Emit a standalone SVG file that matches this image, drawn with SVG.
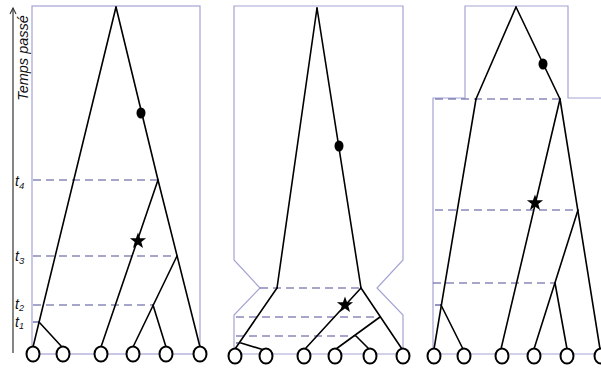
<svg xmlns="http://www.w3.org/2000/svg" width="601" height="370" viewBox="0 0 601 370">
<style>
.frame{fill:none;stroke:#a4a4d4;stroke-width:1.2}
.br{fill:none;stroke:#000;stroke-width:1.6;stroke-linecap:round}
.dash{fill:none;stroke:#4e4e96;stroke-width:1.2;stroke-dasharray:8 5}
.leaf{fill:#fff;stroke:#000;stroke-width:2}
.lbl{font-family:"Liberation Sans",Arial,sans-serif;font-style:italic;fill:#111}
</style>
<defs>
<path id="star" d="M0,-8.5 L2.05,-2.8 L8.1,-2.65 L3.3,1.05 L5,6.9 L0,3.5 L-5,6.9 L-3.3,1.05 L-8.1,-2.65 L-2.05,-2.8 Z" fill="#000"/>
</defs>

<!-- axis -->
<g id="axis">
<line x1="13" y1="353" x2="13" y2="8" stroke="#333" stroke-width="1.2"/>
<path d="M10,14 L13,8 L16,14" fill="none" stroke="#333" stroke-width="1.1"/>
<text class="lbl" font-size="14.5" text-anchor="middle" transform="translate(27.5,58) rotate(-90)">Temps passé</text>
<text class="lbl" font-size="14" x="15" y="186">t<tspan font-size="9.5" dy="3">4</tspan></text>
<text class="lbl" font-size="14" x="15" y="261">t<tspan font-size="9.5" dy="3">3</tspan></text>
<text class="lbl" font-size="14" x="15" y="309">t<tspan font-size="9" dy="2">2</tspan></text>
<text class="lbl" font-size="14" x="15" y="327">t<tspan font-size="9" dy="2">1</tspan></text>
</g>

<!-- frames -->
<g id="frames">
<rect class="frame" x="32" y="6" width="168" height="348"/>
<path class="frame" d="M234,354 V315 L260,288 L234,260 V6 H403 V260 L377,288 L403,315 V354 Z"/>
<path class="frame" d="M433,354 V98 H465 V6 H568 V98 H601 M433,354 H601"/>
</g>

<!-- connectors -->
<g id="connectors">
<!-- panel 1 -->
<line class="dash" x1="33" y1="180" x2="158" y2="180"/>
<line class="dash" x1="33" y1="256" x2="177" y2="256"/>
<line class="dash" x1="33" y1="305" x2="153" y2="305"/>
<line class="dash" x1="33" y1="322" x2="39" y2="322"/>
<line class="br" x1="116" y1="7" x2="33" y2="347"/>
<line class="br" x1="39" y1="322" x2="62" y2="347"/>
<line class="br" x1="116" y1="7" x2="158" y2="180"/>
<line class="br" x1="158" y1="180" x2="101" y2="347"/>
<line class="br" x1="158" y1="180" x2="200" y2="347"/>
<line class="br" x1="177" y1="256" x2="133" y2="347"/>
<line class="br" x1="153" y1="305" x2="166" y2="347"/>
<!-- panel 2 -->
<line class="dash" x1="260" y1="288" x2="361" y2="288"/>
<line class="dash" x1="236" y1="317" x2="380" y2="317"/>
<line class="dash" x1="236" y1="336" x2="356" y2="336"/>
<line class="dash" x1="236" y1="343" x2="241" y2="343"/>
<line class="br" x1="317" y1="8" x2="277" y2="288"/>
<line class="br" x1="317" y1="8" x2="361" y2="288"/>
<line class="br" x1="277" y1="288" x2="235" y2="349"/>
<line class="br" x1="241" y1="343" x2="264" y2="350"/>
<line class="br" x1="361" y1="288" x2="305" y2="349"/>
<line class="br" x1="361" y1="288" x2="402" y2="349"/>
<line class="br" x1="380" y1="317" x2="336" y2="349"/>
<line class="br" x1="356" y1="336" x2="369" y2="349"/>
<!-- panel 3 -->
<line class="dash" x1="435" y1="99" x2="560" y2="99"/>
<line class="dash" x1="435" y1="210" x2="578" y2="210"/>
<line class="dash" x1="433" y1="283" x2="555" y2="283"/>
<line class="dash" x1="435" y1="305" x2="441" y2="305"/>
<line class="br" x1="516" y1="7" x2="476" y2="99"/>
<line class="br" x1="516" y1="7" x2="560" y2="99"/>
<line class="br" x1="476" y1="99" x2="434" y2="349"/>
<line class="br" x1="441" y1="305" x2="463" y2="349"/>
<line class="br" x1="560" y1="99" x2="501" y2="349"/>
<line class="br" x1="560" y1="99" x2="600" y2="349"/>
<line class="br" x1="578" y1="210" x2="534" y2="349"/>
<line class="br" x1="555" y1="283" x2="567" y2="349"/>
</g>

<!-- markers on branches -->
<g id="events">
<ellipse cx="141" cy="113" rx="4.5" ry="5.5" fill="#000"/>
<use href="#star" x="138" y="241"/>
<ellipse cx="339" cy="146" rx="4.5" ry="5.5" fill="#000"/>
<use href="#star" x="345" y="305"/>
<ellipse cx="543" cy="64" rx="4.5" ry="5.5" fill="#000"/>
<use href="#star" x="535" y="203"/>
</g>

<!-- leaves -->
<g id="leaves-1">
<g id="p1-l1"><ellipse class="leaf" cx="33" cy="354" rx="6.5" ry="7.5"/></g>
<g id="p1-l2"><ellipse class="leaf" cx="63" cy="354" rx="6.5" ry="7.5"/></g>
<g id="p1-l3"><ellipse class="leaf" cx="101" cy="354" rx="6.5" ry="7.5"/></g>
<g id="p1-l4"><ellipse class="leaf" cx="133" cy="354" rx="6.5" ry="7.5"/></g>
<g id="p1-l5"><ellipse class="leaf" cx="166" cy="354" rx="6.5" ry="7.5"/></g>
<g id="p1-l6"><ellipse class="leaf" cx="200" cy="354" rx="6.5" ry="7.5"/></g>
</g>
<g id="leaves-2">
<g id="p2-l1"><ellipse class="leaf" cx="235" cy="356" rx="6.5" ry="7.5"/></g>
<g id="p2-l2"><ellipse class="leaf" cx="266" cy="356" rx="6.5" ry="7.5"/></g>
<g id="p2-l3"><ellipse class="leaf" cx="304" cy="356" rx="6.5" ry="7.5"/></g>
<g id="p2-l4"><ellipse class="leaf" cx="335" cy="356" rx="6.5" ry="7.5"/></g>
<g id="p2-l5"><ellipse class="leaf" cx="370" cy="356" rx="6.5" ry="7.5"/></g>
<g id="p2-l6"><ellipse class="leaf" cx="403" cy="356" rx="6.5" ry="7.5"/></g>
</g>
<g id="leaves-3">
<g id="p3-l1"><ellipse class="leaf" cx="434" cy="356" rx="6.5" ry="7.5"/></g>
<g id="p3-l2"><ellipse class="leaf" cx="464" cy="356" rx="6.5" ry="7.5"/></g>
<g id="p3-l3"><ellipse class="leaf" cx="502" cy="356" rx="6.5" ry="7.5"/></g>
<g id="p3-l4"><ellipse class="leaf" cx="534" cy="356" rx="6.5" ry="7.5"/></g>
<g id="p3-l5"><ellipse class="leaf" cx="567" cy="356" rx="6.5" ry="7.5"/></g>
<g id="p3-l6"><ellipse class="leaf" cx="601" cy="356" rx="6.5" ry="7.5"/></g>
</g>
</svg>
